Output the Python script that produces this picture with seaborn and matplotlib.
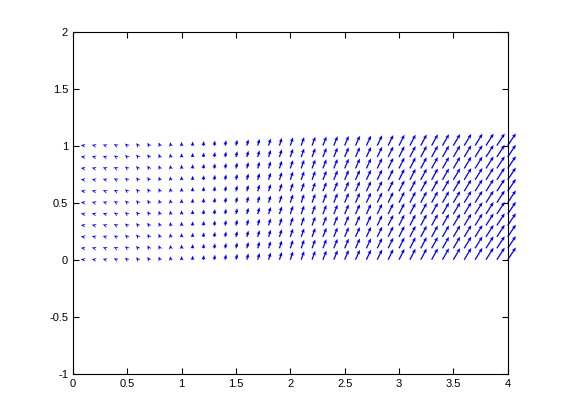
import numpy as np
import pandas as pd
import seaborn as sns
import matplotlib.pyplot as plt

# grid positions (columns along x, rows along y)
x_cols = [0.1, 0.2, 0.3, 0.4, 0.5, 0.6, 0.7, 0.8, 0.9, 1.0,
          1.1, 1.2, 1.3, 1.4, 1.5, 1.6, 1.7, 1.8, 1.9, 2.0,
          2.1, 2.2, 2.3, 2.4, 2.5, 2.6, 2.7, 2.8, 2.9, 3.0,
          3.1, 3.2, 3.3, 3.4, 3.5, 3.6, 3.7, 3.8, 3.9, 4.0]
y_rows = [0.0, 0.1, 0.2, 0.3, 0.4, 0.5, 0.6, 0.7, 0.8, 0.9, 1.0]

# arrow components read per column (same for every row)
u_cols = [-1.1, -1.05, -1.0, -0.95, -0.85, -0.75, -0.6, -0.45, -0.25, 0.0,
          0.1, 0.2, 0.3, 0.4, 0.5, 0.6, 0.7, 0.8, 0.9, 1.0,
          1.1, 1.2, 1.3, 1.4, 1.5, 1.6, 1.7, 1.8, 1.9, 2.0,
          2.1, 2.2, 2.3, 2.4, 2.5, 2.6, 2.7, 2.8, 2.9, 3.0]
v_cols = [0.15, 0.25, 0.35, 0.5, 0.7, 0.85, 1.0, 1.1, 1.2, 1.3,
          1.45, 1.6, 1.75, 1.9, 2.05, 2.2, 2.35, 2.5, 2.7, 2.9,
          3.0, 3.1, 3.2, 3.3, 3.4, 3.45, 3.5, 3.6, 3.7, 3.8,
          3.85, 3.9, 3.95, 4.0, 4.05, 4.1, 4.15, 4.2, 4.25, 4.3]

x_ticks = [0, 0.5, 1, 1.5, 2, 2.5, 3, 3.5, 4]
y_ticks = [-1, -0.5, 0, 0.5, 1, 1.5, 2]

rows = []
for y in y_rows:
    for x, u, v in zip(x_cols, u_cols, v_cols):
        rows.append({"x": x, "y": y, "u": u, "v": v})
df = pd.DataFrame(rows)

sns.set_style("white")
plt.rcParams['font.family'] = ['Liberation Sans', 'DejaVu Sans']

fig = plt.figure(figsize=(5.61, 4.2), dpi=100)
ax = fig.add_axes([0.13, 0.11, 0.775, 0.815])

q = ax.quiver(df["x"], df["y"], df["u"], df["v"], color="blue",
              angles="xy", scale_units="xy", scale=40,
              width=0.0029, headwidth=3, headlength=3.5, headaxislength=3,
              minlength=0, minshaft=0.5)
q.set_clip_on(False)

ax.set_xlim(0, 4)
ax.set_ylim(-1, 2)
ax.set_xticks(x_ticks)
ax.set_xticklabels(["0", "0.5", "1", "1.5", "2", "2.5", "3", "3.5", "4"])
ax.set_yticks(y_ticks)
ax.set_yticklabels(["-1", "-0.5", "0", "0.5", "1", "1.5", "2"])
ax.tick_params(direction="in", length=4, width=0.8, labelsize=8,
               top=True, right=True, bottom=True, left=True, colors="black")
for s in ax.spines.values():
    s.set_visible(True)
    s.set_color("black")
    s.set_linewidth(0.8)

fig.savefig("out.png", dpi=100, facecolor="white")
